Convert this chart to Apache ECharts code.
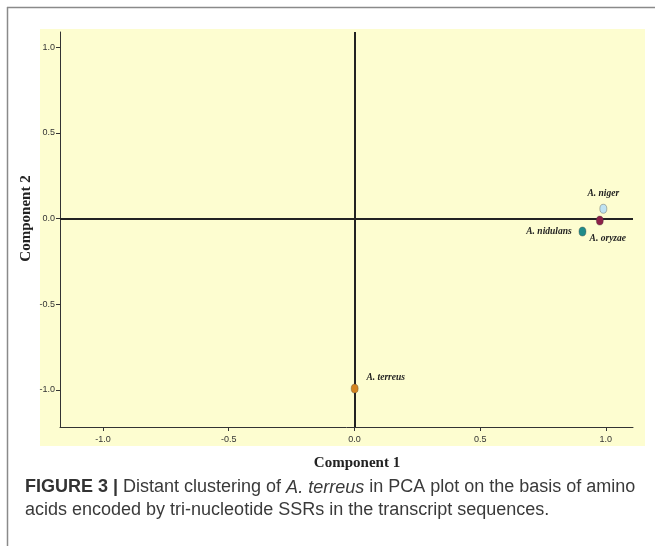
<!DOCTYPE html>
<html>
<head>
<meta charset="utf-8">
<script src="https://cdn.jsdelivr.net/npm/echarts@6/dist/echarts.min.js"></script>
<style>
html,body{margin:0;padding:0;background:#fff;}
#c{width:655px;height:546px;}
</style>
</head>
<body>
<div id="c"></div>
<script>
// Data
var species = ['A. niger', 'A. oryzae', 'A. nidulans', 'A. terreus'];
var component1 = [0.99, 0.976, 0.907, 0.001];
var component2 = [0.057, -0.012, -0.076, -0.992];
var colors = ['#BFE3F2', '#8C2148', '#1F8C8A', '#D4841E'];
var tickValues = [-1.0, -0.5, 0.0, 0.5, 1.0];
var tickLabels = ['-1.0', '-0.5', '0.0', '0.5', '1.0'];

var labelPlacement = {
  'A. niger': {position: 'top', distance: 5, offset: [0, 0]},
  'A. oryzae': {position: 'bottom', distance: 6, offset: [8, 2]},
  'A. nidulans': {position: 'left', distance: 7, offset: [0, 0]},
  'A. terreus': {position: 'right', distance: 4, offset: [4, -11]}
};

var points = species.map(function (s, i) {
  var p = labelPlacement[s];
  return {
    name: s,
    value: [component1[i], component2[i]],
    itemStyle: {color: colors[i]},
    label: {show: true, formatter: s, position: p.position, distance: p.distance, offset: p.offset}
  };
});

function fmt(v) {
  var idx = tickValues.indexOf(Math.round(v * 10) / 10);
  return idx >= 0 ? tickLabels[idx] : '';
}

var chart = echarts.init(document.getElementById('c'), null, {renderer: 'canvas'});
var tickFont = {fontSize: 9, color: '#333', fontFamily: '"Liberation Sans Narrow","Liberation Sans",Arial,sans-serif'};
var capFont = '"Liberation Sans",Arial,sans-serif';
var serif = '"Liberation Serif","Times New Roman",serif';
chart.setOption({
  animation: false,
  backgroundColor: '#fff',
  graphic: [
    {type: 'rect', z: -10, silent: true, shape: {x: 40, y: 29, width: 605, height: 417}, style: {fill: '#FDFDD0'}},
    {type: 'line', z: -5, silent: true, shape: {x1: 7.5, y1: 7, x2: 7.5, y2: 546}, style: {stroke: '#8a8a8a', lineWidth: 1.5}},
    {type: 'line', z: -5, silent: true, shape: {x1: 7, y1: 7.5, x2: 655, y2: 7.5}, style: {stroke: '#8a8a8a', lineWidth: 1.5}}
  ],
  title: {
    left: 20, top: 471,
    text: '{b|FIGURE 3 |} {n|Distant clustering of }{i|A. terreus}{n| in PCA plot on the basis of amino}\n{n|acids encoded by tri-nucleotide SSRs in the transcript sequences.}',
    textStyle: {
      fontWeight: 'normal',
      rich: {
        b: {fontSize: 18, fontWeight: 'bold', color: '#333', fontFamily: capFont, lineHeight: 23},
        n: {fontSize: 18, fontWeight: 'normal', color: '#3a3a3a', fontFamily: capFont, lineHeight: 23},
        i: {fontSize: 18, fontWeight: 'normal', fontStyle: 'italic', color: '#3a3a3a', fontFamily: capFont, lineHeight: 23}
      }
    }
  },
  grid: {left: 60, top: 32, right: 22, bottom: 119, containLabel: false, outerBoundsMode: 'none'},
  xAxis: {
    type: 'value', min: -1.171, max: 1.108,
    name: 'Component 1', nameLocation: 'middle', nameGap: 29,
    nameTextStyle: {fontSize: 15, fontWeight: 'bold', color: '#222', fontFamily: serif, padding: [0, 0, 0, 21]},
    axisLine: {show: true, onZero: false, lineStyle: {color: '#333', width: 1}},
    axisTick: {show: true, length: 4, customValues: tickValues, lineStyle: {color: '#333'}},
    axisLabel: {customValues: tickValues, formatter: fmt, margin: 8, fontSize: tickFont.fontSize, color: tickFont.color, fontFamily: tickFont.fontFamily},
    splitLine: {show: false}
  },
  yAxis: {
    type: 'value', min: -1.216, max: 1.088,
    name: 'Component 2', nameLocation: 'middle', nameGap: 26, nameMoveOverlap: false,
    nameTextStyle: {fontSize: 15, fontWeight: 'bold', color: '#222', fontFamily: serif, padding: [0, 0, 0, 22]},
    axisLine: {show: true, onZero: false, lineStyle: {color: '#333', width: 1}},
    axisTick: {show: true, length: 4, customValues: tickValues, lineStyle: {color: '#333'}},
    axisLabel: {customValues: tickValues, formatter: fmt, margin: 5, fontSize: tickFont.fontSize, color: tickFont.color, fontFamily: tickFont.fontFamily},
    splitLine: {show: false}
  },
  series: [{
    type: 'scatter',
    symbol: 'circle',
    symbolSize: [7, 9],
    itemStyle: {borderColor: 'rgba(60,60,60,0.6)', borderWidth: 0.6, opacity: 1},
    label: {fontSize: 9.5, fontWeight: 'bold', fontStyle: 'italic', color: '#222', fontFamily: serif},
    data: points,
    z: 5,
    markLine: {
      silent: true, symbol: 'none', label: {show: false},
      lineStyle: {color: '#222', width: 2, type: 'solid'},
      data: [{xAxis: 0}, {yAxis: 0}],
      z: 3
    }
  }]
});
</script>
</body>
</html>
